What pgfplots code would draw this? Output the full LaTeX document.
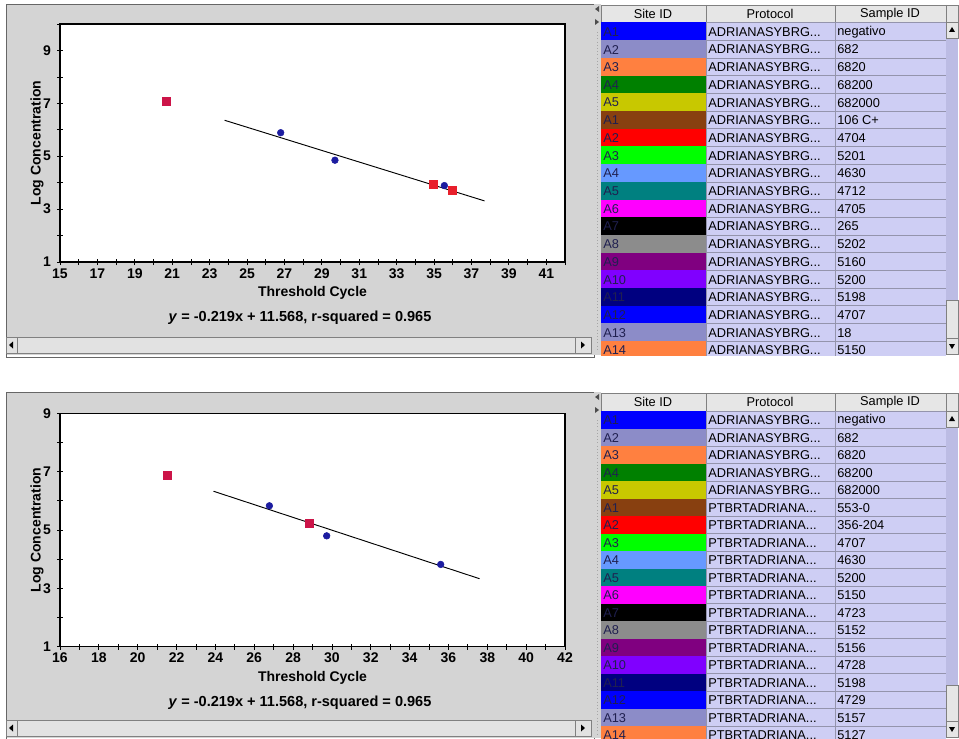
\documentclass[border=0pt]{standalone}
\usepackage{fontspec}
\setmainfont{Liberation Sans}
\usepackage{pgfplots}
\pgfplotsset{compat=1.18}
\definecolor{panel}{HTML}{D4D4D4}
\definecolor{track}{HTML}{E2E2E2}
\definecolor{cell}{HTML}{CECEF4}
\definecolor{gridc}{HTML}{9494AC}
\definecolor{hdr}{HTML}{E6E6E6}
\definecolor{vtrack}{HTML}{BCBCE4}
\definecolor{cBlue}{HTML}{0000FF}
\definecolor{cSlate}{HTML}{8C8CC8}
\definecolor{cOrange}{HTML}{FF8040}
\definecolor{cGreen}{HTML}{008000}
\definecolor{cOlive}{HTML}{C8C800}
\definecolor{cBrown}{HTML}{884010}
\definecolor{cRed}{HTML}{FF0000}
\definecolor{cLime}{HTML}{00FF00}
\definecolor{cLBlue}{HTML}{6699FF}
\definecolor{cTeal}{HTML}{008080}
\definecolor{cMag}{HTML}{FF00FF}
\definecolor{cBlack}{HTML}{000000}
\definecolor{cGray}{HTML}{8C8C8C}
\definecolor{cPurple}{HTML}{800080}
\definecolor{cViolet}{HTML}{8000FF}
\definecolor{cNavy}{HTML}{000080}
\definecolor{crimson}{HTML}{CC1448}
\definecolor{ptred}{HTML}{E8202C}
\definecolor{ptblue}{HTML}{1C1CA0}
\definecolor{sitetext}{HTML}{202050}

\newcommand\tfont{\fontsize{9.6}{11}\selectfont}
\newcommand\cfont{\fontsize{10.5}{12}\selectfont\bfseries}
\newcommand\efont{\fontsize{10.9}{12}\selectfont\bfseries}
\newcommand\PA{ADRIANASYBRG...}
\newcommand\PB{PTBRTADRIANA...}

% #1 header top, #2 first row top, #3 row height, #4 clip bottom, #5 rows
\newcommand\drawtable[5]{%
  \fill[hdr] (601,#1) rectangle (958,#2);
  \draw[gray] (601,#1) rectangle (958,#2);
  \draw[gray] (706,#1) -- (706,#2) (835,#1) -- (835,#2) (946,#1) -- (946,#2);
  \node[font=\tfont] at (653,{(#1+#2)/2}) {Site ID};
  \node[font=\tfont] at (770,{(#1+#2)/2}) {Protocol};
  \node[font=\tfont] at (890,{(#1+#2)/2}) {Sample ID};
  \begin{scope}
    \clip (601,#2) rectangle (946,#4);
    \foreach \c/\s/\p/\id [count=\i from 0] in {#5} {
      \pgfmathsetmacro\yt{#2+#3*\i}
      \fill[\c] (601,\yt) rectangle (706,\yt+#3);
      \fill[cell] (706,\yt) rectangle (946,\yt+#3);
      \draw[gridc] (706,\yt) -- (946,\yt);
      \draw[gridc] (706,\yt) -- (706,\yt+#3) (835,\yt) -- (835,\yt+#3);
      \node[anchor=west,font=\tfont,text=sitetext,inner sep=0pt] at (603,\yt+#3/2+0.5) {\s};
      \node[anchor=west,font=\tfont,inner sep=0pt] at (708,\yt+#3/2+0.5) {\p};
      \node[anchor=west,font=\tfont,inner sep=0pt] at (837,\yt+#3/2+0.5) {\id};
    }
  \end{scope}
}

\pgfplotsset{
  scrn/.style={
    scale only axis,
    axis background/.style={fill=white},
    axis line style={line width=0.9pt},
    tick pos=left,
    tick align=center,
    major tick length=4.5pt,
    minor tick length=4.5pt,
    every tick/.style={black,line width=0.6pt},
    /pgf/number format/assume math mode=true,
    ticklabel style={font=\cfont},
    xticklabel style={yshift=1pt},
    yticklabel style={xshift=-1pt},
    label style={font=\cfont},
    ylabel style={at={(axis description cs:-0.0455,0.5)},rotate=0,anchor=center},
  }
}

\begin{document}
\begin{tikzpicture}
\useasboundingbox (0,0) rectangle (719.25pt,-553.5pt);
\begin{scope}[x=0.75pt,y=-0.75pt]
  \fill[white] (0,0) rectangle (959,738);
  % ---- chart panels
  \foreach \t/\b in {4/355, 392/738} {
    \fill[panel] (6,\t) rectangle (594,\b);
    \draw[gray!80!black] (6,\t) rectangle (594,\b+2);
    % horizontal scrollbar
    \fill[track] (6,\b-18) rectangle (591,\b-2);
    \draw[gray] (6,\b-18) rectangle (591,\b-2);
    \draw[gray] (17,\b-18) -- (17,\b-2) (575,\b-18) -- (575,\b-2);
    \fill[black] (9,\b-10) -- (13,\b-13.5) -- (13,\b-6.5) -- cycle;
    \fill[black] (585,\b-10) -- (581,\b-13.5) -- (581,\b-6.5) -- cycle;
    % splitter
    \fill[panel] (594,\t) rectangle (601,\b);
    \fill[gray!60!black] (595,\t+5) -- (599,\t+2) -- (599,\t+8) -- cycle;
    \fill[gray!60!black] (599,\t+18) -- (595,\t+15) -- (595,\t+21) -- cycle;
    \draw[gray!70,dotted] (597.5,\t+28) -- (597.5,\b-4);
  }
  % vertical scrollbars
  \foreach \t/\b/\th in {22/355/300, 411/738/685} {
    \fill[vtrack] (946,\t) rectangle (958,\b);
    \fill[hdr] (946,\t) rectangle (958,\t+16);
    \draw[gray] (946,\t) rectangle (958,\t+16);
    \fill[black] (952,\t+5) -- (949,\t+10) -- (955,\t+10) -- cycle;
    \fill[hdr] (946,\th) rectangle (958,\b-17);
    \draw[gray] (946,\th) rectangle (958,\b-17);
    \fill[hdr] (946,\b-17) rectangle (958,\b-1);
    \draw[gray] (946,\b-17) rectangle (958,\b-1);
    \fill[black] (952,\b-6) -- (949,\b-11) -- (955,\b-11) -- cycle;
  }
\end{scope}

% ---- top chart
\begin{axis}[scrn,
  at={(45pt,-196.5pt)}, anchor=south west,
  width=378.75pt, height=178.5pt,
  xmin=15, xmax=42, ymin=1, ymax=10,
  xtick={15,17,...,41}, minor xtick={16,18,...,42},
  ytick={1,3,5,7,9}, minor ytick={2,4,6,8,10},
  xlabel={Threshold Cycle}, ylabel={Log Concentration},
  xlabel style={at={(axis description cs:0.5,-0.13)},anchor=center},
]
\addplot[black, line width=0.7pt] coordinates {(23.8,6.36) (37.7,3.31)};
\addplot[only marks, mark=square*, mark size=3pt, color=crimson] coordinates {(20.7,7.07)};
\addplot[only marks, mark=square*, mark size=3pt, color=ptred] coordinates {(34.96,3.93) (35.95,3.71)};
\addplot[only marks, mark=*, mark size=2.5pt, color=ptblue] coordinates {(26.8,5.89) (29.7,4.85) (35.55,3.89)};
\end{axis}

% ---- bottom chart
\begin{axis}[scrn,
  at={(45pt,-485pt)}, anchor=south west,
  width=378.75pt, height=175pt,
  xmin=16, xmax=42, ymin=1, ymax=9,
  xtick={16,18,...,42}, minor xtick={17,19,...,41},
  ytick={1,3,5,7,9}, minor ytick={2,4,6,8},
  xlabel={Threshold Cycle}, ylabel={Log Concentration},
  xlabel style={at={(axis description cs:0.5,-0.135)},anchor=center},
]
\addplot[black, line width=0.7pt] coordinates {(23.9,6.33) (37.6,3.33)};
\addplot[only marks, mark=square*, mark size=3pt, color=crimson] coordinates {(21.5,6.86) (28.85,5.23)};
\addplot[only marks, mark=*, mark size=2.5pt, color=ptblue] coordinates {(26.78,5.83) (29.73,4.80) (35.6,3.82)};
\end{axis}

\begin{scope}[x=0.75pt,y=-0.75pt]
  \node[font=\efont] at (300,318) {\textit{y} = -0.219x + 11.568, r-squared = 0.965};
  \node[font=\efont] at (300,703) {\textit{y} = -0.219x + 11.568, r-squared = 0.965};
  \drawtable{5}{22.5}{17.7}{355}{cBlue/A1/\PA/negativo, cSlate/A2/\PA/682, cOrange/A3/\PA/6820, cGreen/A4/\PA/68200, cOlive/A5/\PA/682000, cBrown/A1/\PA/106 C+, cRed/A2/\PA/4704, cLime/A3/\PA/5201, cLBlue/A4/\PA/4630, cTeal/A5/\PA/4712, cMag/A6/\PA/4705, cBlack/A7/\PA/265, cGray/A8/\PA/5202, cPurple/A9/\PA/5160, cViolet/A10/\PA/5200, cNavy/A11/\PA/5198, cBlue/A12/\PA/4707, cSlate/A13/\PA/18, cOrange/A14/\PA/5150}
  \drawtable{393}{411}{17.5}{738}{cBlue/A1/\PA/negativo, cSlate/A2/\PA/682, cOrange/A3/\PA/6820, cGreen/A4/\PA/68200, cOlive/A5/\PA/682000, cBrown/A1/\PB/553-0, cRed/A2/\PB/356-204, cLime/A3/\PB/4707, cLBlue/A4/\PB/4630, cTeal/A5/\PB/5200, cMag/A6/\PB/5150, cBlack/A7/\PB/4723, cGray/A8/\PB/5152, cPurple/A9/\PB/5156, cViolet/A10/\PB/4728, cNavy/A11/\PB/5198, cBlue/A12/\PB/4729, cSlate/A13/\PB/5157, cOrange/A14/\PB/5127}
\end{scope}
\end{tikzpicture}
\end{document}
